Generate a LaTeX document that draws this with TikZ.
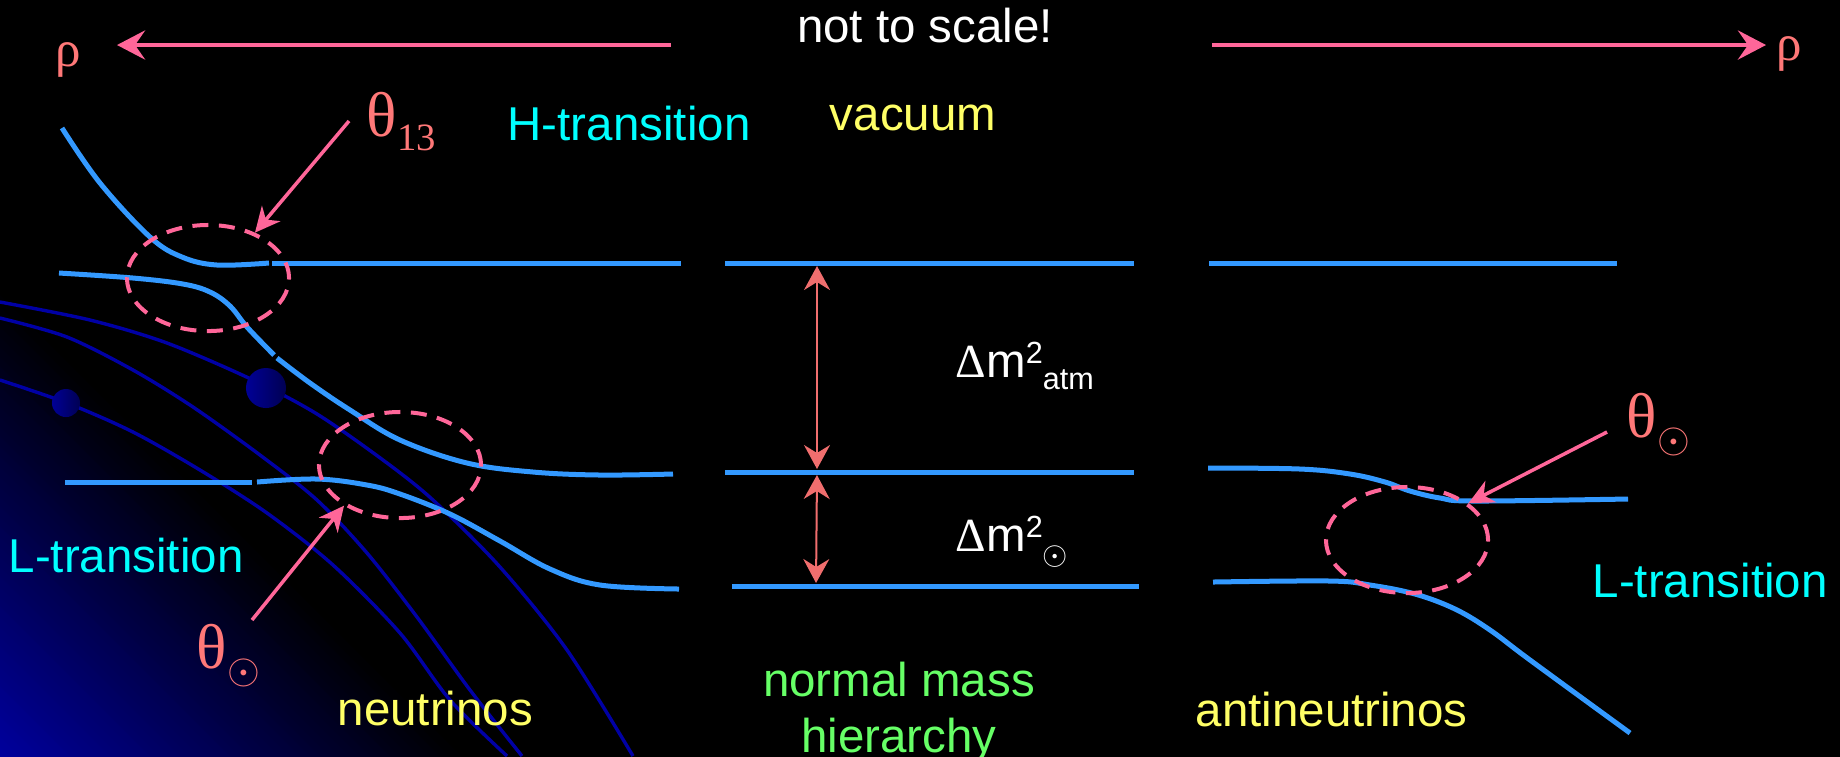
\documentclass[tikz,border=0pt]{standalone}
\usepackage{fontspec}
\setmainfont{Liberation Sans}
\newfontfamily\serifgr{Liberation Serif}
\usepackage{tikz}
\usetikzlibrary{arrows.meta, shapes.geometric}
\definecolor{nuBlue}{RGB}{51,153,255}
\definecolor{nuPink}{RGB}{255,102,153}
\definecolor{nuSalmon}{RGB}{255,120,120}
\definecolor{nuRed}{RGB}{240,110,110}
\definecolor{nuCyan}{RGB}{0,255,255}
\definecolor{nuYellow}{RGB}{255,255,102}
\definecolor{nuGreen}{RGB}{102,255,102}
\definecolor{nuNavy}{RGB}{0,0,160}
\definecolor{nuLine}{RGB}{0,0,165}
\definecolor{nuDot}{RGB}{0,0,150}

\begin{document}
\begin{tikzpicture}[x=0.01cm, y=-0.01cm,
    mlevel/.style={nuBlue, line width=0.05cm},
    field/.style={nuLine, line width=0.034cm},
    xing/.style={draw=nuPink, line width=0.04cm, dash pattern=on 0.16cm off 0.105cm,
        ellipse, minimum width=1.62cm, minimum height=1.06cm, inner sep=0pt},
    ptr/.style={nuPink, line width=0.035cm, -{Stealth[length=0.25cm, width=0.24cm, inset=0.08cm]}},
    topArrow/.style={nuPink, line width=0.045cm, -{Stealth[length=0.28cm, width=0.29cm, inset=0.1cm]}},
    dmarrow/.style={nuRed, line width=0.02cm, shorten >=0.03cm, shorten <=0.03cm,
        {Stealth[length=0.24cm, width=0.26cm, inset=0.08cm]}-{Stealth[length=0.24cm, width=0.26cm, inset=0.08cm]}},
    txt/.style={inner sep=0pt, font=\fontsize{13.5}{16}\selectfont},
    gr/.style={inner sep=0pt, text=nuSalmon, font=\serifgr\fontsize{18}{18}\selectfont}]
    \useasboundingbox (0,0) rectangle (1840,756);
    \fill[black] (-10,-10) rectangle (1850,766);
    % blue glow in the lower left corner
    \foreach \i in {0,...,46} {
        \pgfmathtruncatemacro{\s}{100-\i*100/47}
        \fill[nuNavy!\s!black] ({10*\i},766) -- ({10*\i+11},766) -- (0,{755-10*\i}) -- (0,{766-10*\i}) -- cycle;
    }
    % field lines and dots
    \draw[field] plot[smooth] coordinates {(0,302) (90,320) (167,343) (253,380) (317,414) (383,460) (433,500) (500,567) (567,650) (633,756)};
    \draw[field] plot[smooth] coordinates {(0,318) (67,337) (133,370) (193,407) (260,455) (317,500) (367,553) (417,617) (470,690) (522,756)};
    \draw[field] plot[smooth] coordinates {(0,380) (67,403) (133,432) (200,470) (267,513) (333,565) (400,633) (450,700) (507,756)};
    \shade[left color=nuDot, right color=nuDot!55!black] (66,403) circle (0.14cm);
    \shade[left color=nuDot, right color=nuDot!55!black] (266,388) circle (0.2cm);

    % neutrinos: levels in matter
    \draw[mlevel] plot[smooth, tension=0.6] coordinates {(62,128) (100,183) (150,237) (182,257) (217,265) (269,263)};
    \draw[mlevel] (272,263) -- (681,263);
    \draw[mlevel] plot[smooth, tension=0.6] coordinates {(59,273) (133,278) (183,284) (210,292) (230,306) (247,327) (274,355)};
    \draw[mlevel] plot[smooth, tension=0.6] coordinates {(277,358) (310,383) (350,410) (400,440) (467,463) (533,472) (600,475) (673,474)};
    \draw[mlevel] (65,482) -- (252,482);
    \draw[mlevel] plot[smooth, tension=0.6] coordinates {(257,482) (317,479) (367,485) (400,494) (450,514) (500,541) (550,569) (600,585) (679,589)};

    % vacuum levels
    \draw[mlevel] (725,263) -- (1134,263);
    \draw[mlevel] (725,472) -- (1134,472);
    \draw[mlevel] (732,586) -- (1139,586);
    \coordinate (m3) at (817,263);
    \coordinate (m2) at (817,472);
    \coordinate (m1) at (816,586);
    \draw[dmarrow] (m2) -- (m3);
    \draw[dmarrow] (m2) -- (m1);

    % antineutrinos
    \draw[mlevel] (1209,263) -- (1617,263);
    \draw[mlevel] plot[smooth, tension=0.6] coordinates {(1208,468) (1300,469) (1350,474) (1385,482) (1410,491) (1440,498) (1475,501) (1628,499)};
    \draw[mlevel] plot[smooth, tension=0.6] coordinates {(1213,582) (1330,581) (1370,585) (1415,594) (1455,609) (1490,630) (1530,660) (1630,733)};

    % resonance regions
    \node[xing] (e13) at (208,278) {};
    \node[xing] (eSolL) at (400,465) {};
    \node[xing] (eSolR) at (1407,540) {};

    % density arrows
    \coordinate (arrL) at (671,45);
    \coordinate (arrLtip) at (117,45);
    \coordinate (arrR) at (1212,45);
    \coordinate (arrRtip) at (1766,45);
    \draw[topArrow] (arrL) -- (arrLtip);
    \draw[topArrow] (arrR) -- (arrRtip);
    \node[gr, font=\serifgr\fontsize{14.5}{15}\selectfont, anchor=base west] (rhoL) at (55,66) {ρ};
    \node[gr, font=\serifgr\fontsize{14.5}{15}\selectfont, anchor=base west] (rhoR) at (1776,60) {ρ};

    % mixing angles
    \node[gr, anchor=base west] (th13) at (366,136) {θ\raisebox{-0.14cm}{\fontsize{11}{11}\selectfont 13}};
    \node[gr, anchor=base west] (thSolL) at (196,668) {θ\raisebox{-0.155cm}{\fontsize{12}{12}\selectfont$\odot$}};
    \node[gr, anchor=base west] (thSolR) at (1626,437) {θ\raisebox{-0.155cm}{\fontsize{12}{12}\selectfont$\odot$}};
    \coordinate (p13) at (349,121);
    \coordinate (pSolL) at (252,620);
    \coordinate (pSolR) at (1607,432);
    \draw[ptr] (p13) -- (e13.44);
    \draw[ptr] (pSolL) -- (eSolL.216);
    \draw[ptr] (pSolR) -- (eSolR.31);

    % labels
    \node[txt, white, anchor=base] (nts) at (925,42) {not to scale!};
    \node[txt, nuCyan, anchor=base west] (htr) at (507,140) {H-transition};
    \node[txt, nuYellow, anchor=base] (vac) at (913,130) {vacuum};
    \node[txt, nuCyan, anchor=base west] (ltrL) at (8,572) {L-transition};
    \node[txt, nuCyan, anchor=base west] (ltrR) at (1592,597) {L-transition};
    \node[txt, nuYellow, anchor=base west] (nuL) at (337,725) {neutrinos};
    \node[txt, nuYellow, anchor=base west] (nuR) at (1195,726) {antineutrinos};
    \node[txt, nuGreen, anchor=north, align=center] (nmh) at (899,661) {normal mass\\hierarchy};
    \node[txt, white, anchor=base west] (dmAtm) at (955,377) {{\serifgr Δ}m\raisebox{0.14cm}{\fontsize{8.7}{9}\selectfont 2}\raisebox{-0.12cm}{\fontsize{8.7}{9}\selectfont atm}};
    \node[txt, white, anchor=base west] (dmSol) at (955,551) {{\serifgr Δ}m\raisebox{0.14cm}{\fontsize{8.7}{9}\selectfont 2}\raisebox{-0.13cm}{\fontsize{9}{9}\selectfont$\odot$}};
\end{tikzpicture}
\end{document}
